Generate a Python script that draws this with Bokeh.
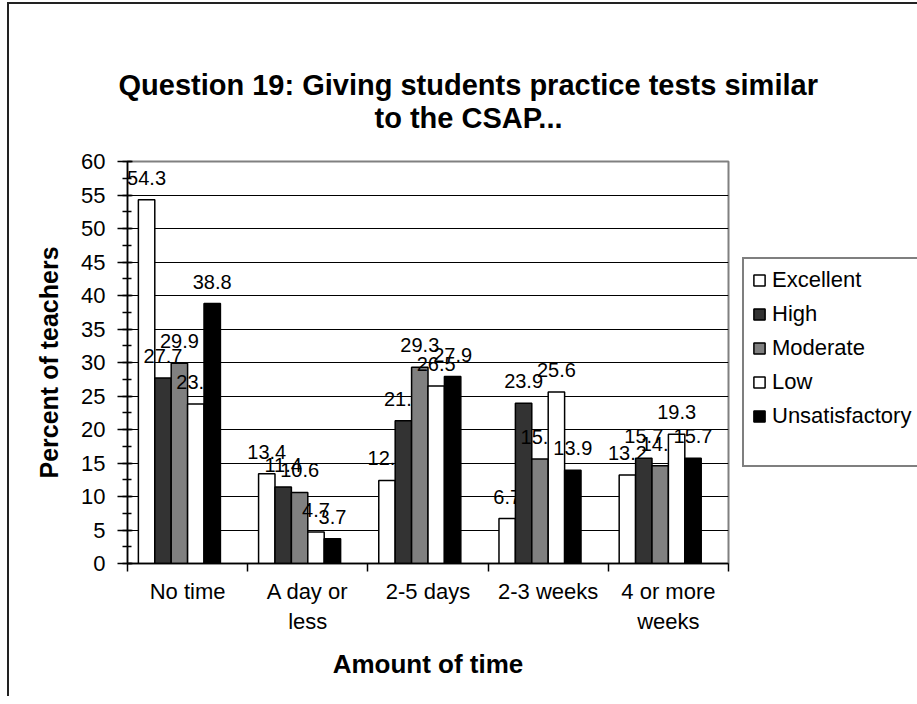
from bokeh.plotting import figure
from bokeh.models import (Range1d, LinearAxis, FixedTicker,
                          SingleIntervalTicker, Legend, LegendItem, ColumnDataSource, Title)
from bokeh.core.properties import value
from bokeh.transform import dodge
from bokeh.embed import file_html
from bokeh.resources import INLINE

title_lines = ["Question 19: Giving students practice tests similar", "to the CSAP..."]
categories = ["No time", "A day or\nless", "2-5 days", "2-3 weeks", "4 or more\nweeks"]
series_names = ["Excellent", "High", "Moderate", "Low", "Unsatisfactory"]
excellent = [54.3, 13.4, 12.4, 6.7, 13.2]
high = [27.7, 11.4, 21.3, 23.9, 15.7]
moderate = [29.9, 10.6, 29.3, 15.6, 14.6]
low = [23.8, 4.7, 26.5, 25.6, 19.3]
unsatisfactory = [38.8, 3.7, 27.9, 13.9, 15.7]
series_values = [excellent, high, moderate, low, unsatisfactory]
colors = ["white", "#333333", "#808080", "white", "black"]

FONT = "Liberation Sans"
n = len(categories)
centers = [i + 0.5 for i in range(n)]

p = figure(x_range=Range1d(0, n), y_range=Range1d(0, 60), title=None,
           frame_width=601, frame_height=402,
           min_border_left=118, min_border_right=181, min_border_top=157, min_border_bottom=133,
           x_axis_location=None, y_axis_location="left",
           output_backend="svg", toolbar_location=None)
p.styles = {"border-top": "2px solid #222", "border-left": "2px solid #222",
            "margin-left": "7px", "margin-top": "2px"}
p.background_fill_color = "white"
p.border_fill_color = "white"
p.outline_line_color = "#808080"
p.outline_line_width = 2
p.xgrid.grid_line_color = None
p.ygrid.grid_line_color = "black"
p.ygrid.grid_line_width = 1

# title: two lines (second line added first: it sits closest to the plot)
p.add_layout(Title(text=title_lines[1], align="left", offset=247, standoff=56,
                   text_font=FONT, text_font_size="29px", text_font_style="bold",
                   text_color="black"), "above")
p.add_layout(Title(text=title_lines[0], align="left", offset=-9, standoff=-58,
                   text_font=FONT, text_font_size="29px", text_font_style="bold",
                   text_color="black"), "above")

# y axis
yax = p.yaxis[0]
yax.ticker = SingleIntervalTicker(interval=5, num_minor_ticks=2)
yax.major_label_text_font = FONT
yax.major_label_text_font_size = "22px"
yax.major_label_text_color = "black"
yax.major_tick_out = 10
yax.major_tick_in = 5
yax.minor_tick_out = 5
yax.minor_tick_in = 4
yax.major_label_standoff = 12
yax.axis_line_color = "black"
yax.axis_line_width = 1.5
yax.major_tick_line_width = 1.5
yax.minor_tick_line_width = 1.5
yax.axis_label = "Percent of teachers"
yax.axis_label_text_font = FONT
yax.axis_label_text_font_size = "25px"
yax.axis_label_text_font_style = "bold"
yax.axis_label_text_color = "black"
yax.axis_label_standoff = 15

# x axis: boundary ticks, then category labels
tick_axis = LinearAxis(ticker=FixedTicker(ticks=list(range(n + 1))),
                       major_label_text_font_size="0px", major_tick_out=8, major_tick_in=0,
                       minor_tick_line_color=None, axis_line_color="black", axis_line_width=1.5,
                       major_tick_line_width=1.5, major_label_standoff=0)
tick_axis.major_label_overrides = {i: "" for i in range(n + 1)}
p.add_layout(tick_axis, "below")
cat_axis = LinearAxis(ticker=FixedTicker(ticks=centers),
                      major_tick_line_color=None, minor_tick_line_color=None, axis_line_color=None,
                      major_label_text_font=FONT, major_label_text_font_size="22px",
                      major_label_standoff=1, major_label_text_color="black",
                      axis_label="Amount of time", axis_label_text_font=FONT,
                      axis_label_text_font_size="26px", axis_label_text_font_style="bold",
                      axis_label_text_color="black", axis_label_standoff=12)
cat_axis.major_label_overrides = {c: lab for c, lab in zip(centers, categories)}
p.add_layout(cat_axis, "below")

slot = 0.1365
items = []
for i, (name, vals, col) in enumerate(zip(series_names, series_values, colors)):
    src = ColumnDataSource(dict(x=centers, top=vals, label=[f"{v:.1f}" for v in vals]))
    off = (i - 2.5) * slot
    r = p.vbar(x=dodge("x", off), top="top", width=slot, source=src,
               fill_color=col, line_color="black", line_width=1.5)
    p.text(x=dodge("x", off), y="top", text="label", source=src,
           text_align="center", text_baseline="bottom", y_offset=-15,
           text_font=value(FONT), text_font_size=value("20px"), text_color="black")
    items.append(LegendItem(label=name, renderers=[r]))

blank = p.vbar(x=[], top=[], width=slot, fill_alpha=0, line_alpha=0)
items.append(LegendItem(label=" ", renderers=[blank]))

legend = Legend(items=items, location="center_left", label_text_font=FONT,
                label_text_font_size="22px", label_text_color="black",
                glyph_width=14, glyph_height=14,
                label_height=20, spacing=8, padding=8, margin=14, label_standoff=6,
                border_line_color="black", border_line_width=2)
p.add_layout(legend, "right")

open("out.html", "w").write(file_html(p, INLINE))
